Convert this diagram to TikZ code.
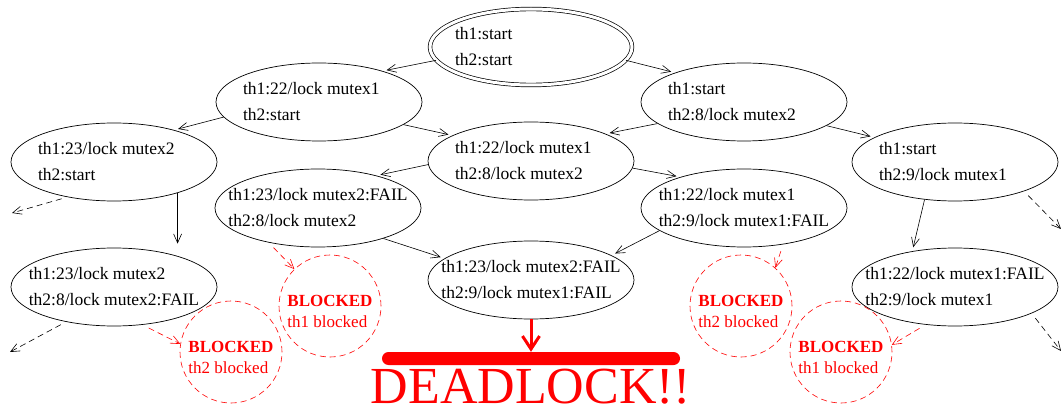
\documentclass[tikz,border=0pt]{standalone}
\usepackage{fontspec}
\setmainfont{Liberation Serif}
\usetikzlibrary{shapes.geometric, arrows.meta, positioning, calc}
\definecolor{blockred}{RGB}{255, 0, 0}

% two-line state label, kept out of the ellipse size
\newcommand\statetxt[3][l]{\makebox[0pt]{\begin{tabular}{@{}#1@{}}#2\\#3\end{tabular}}}
\newcommand\blocktxt[1]{\begin{tabular}{@{}l@{}}\rule{0pt}{28pt}\textbf{BLOCKED}\\#1\end{tabular}}

\begin{document}
\begin{tikzpicture}[
    x=1pt, y=-1pt,
    state/.style={ellipse, draw, line width=0.7pt, minimum width=206pt, minimum height=78pt,
        inner sep=0pt, font=\fontsize{17.5}{26.5}\selectfont},
    startstate/.style={state, double, double distance=3pt, minimum width=202pt, minimum height=76pt},
    blocked/.style={circle, draw=blockred, text=blockred, line width=0.6pt, dash pattern=on 6pt off 4pt,
        minimum size=102pt, inner sep=0pt, font=\fontsize{17}{20.7}\selectfont},
    deadbar/.style={rectangle, rounded corners=6.5pt, fill=blockred, minimum width=298pt,
        minimum height=13pt, inner sep=0pt},
    trans/.style={-{Straight Barb[length=9pt,width=8pt]}, line width=0.6pt, shorten >=4pt},
    more/.style={trans, dash pattern=on 6pt off 4pt, shorten <=6pt, shorten >=0pt},
    wait/.style={trans, blockred, dash pattern=on 6pt off 4pt, shorten <=7pt, shorten >=0pt},
    deadarrow/.style={-{Straight Barb[length=13pt,width=17pt]}, line width=3pt, blockred}
]
\useasboundingbox (0,0) rectangle (1061,409);

% states
\node[startstate] (start) at (531,47) {\statetxt[p{152pt}]{th1:start}{th2:start}};
\node[state] (l1) at (319,102) {\statetxt[p{152pt}]{th1:22/lock mutex1}{th2:start}};
\node[state] (r1) at (744,102) {\statetxt[p{152pt}]{th1:start}{th2:8/lock mutex2}};
\node[state] (l2) at (114,162) {\statetxt[p{152pt}]{th1:23/lock mutex2}{th2:start}};
\node[state] (c2) at (531,161) {\statetxt[p{152pt}]{th1:22/lock mutex1}{th2:8/lock mutex2}};
\node[state] (r2) at (955,162) {\statetxt[p{152pt}]{th1:start}{th2:9/lock mutex1}};
\node[state] (l3) at (318,208) {\statetxt{th1:23/lock mutex2:FAIL}{th2:8/lock mutex2}};
\node[state] (r3) at (744,208) {\statetxt{th1:22/lock mutex1}{th2:9/lock mutex1:FAIL}};
\node[state] (l4) at (114,287) {\statetxt{th1:23/lock mutex2}{th2:8/lock mutex2:FAIL}};
\node[state] (c4) at (531,280) {\statetxt{th1:23/lock mutex2:FAIL}{th2:9/lock mutex1:FAIL}};
\node[state] (r4) at (955,287) {\statetxt{th1:22/lock mutex1:FAIL}{th2:9/lock mutex1}};

% blocked threads
\node[blocked] (bl4) at (231,352) {\blocktxt{th2 blocked}};
\node[blocked] (bl3) at (330,306) {\blocktxt{th1 blocked}};
\node[blocked] (br3) at (741,306) {\blocktxt{th2 blocked}};
\node[blocked] (br4) at (841,352) {\blocktxt{th1 blocked}};

% deadlock
\node[deadbar] (bar) at (531,358.5) {};
\node[font=\fontsize{52}{52}\selectfont, text=blockred, anchor=base, inner sep=0pt] (dead) at (531,403) {DEADLOCK!!};

\coordinate (offl2) at (12,213);
\coordinate (offl4) at (10,352);
\coordinate (offr2) at (1061,229);
\coordinate (offr4) at (1061,351);

\draw[trans] (start.188) -- (l1.26);
\draw[trans] (start.352) -- (r1.157);
\draw[trans] (l1.189) -- (l2.28);
\draw[trans] (l1.345) -- (c2.162);
\draw[trans] (r1.194) -- (c2.20);
\draw[trans] (r1.344) -- (r2.163);
\draw[trans] (l2.334) -- (l2.334 |- l4.north);
\draw[trans] (c2.182) -- (l3.29);
\draw[trans] (c2.356) -- (r3.154);
\draw[trans] (r2.231) -- (r4.140);
\draw[trans] (l3.335) -- (c4.166);
\draw[trans] (r3.195) -- (c4.17);

\draw[more] (l2.217) -- (offl2);
\draw[more] (l4.216) -- (offl4);
\draw[more] (r2.337) -- (offr2);
\draw[more] (r4.341) -- (offr4);

\draw[wait] (l3.215) -- (bl3.134);
\draw[wait] (l4.307) -- (bl4.171);
\draw[wait] (r3.317) -- (br3.48);
\draw[wait] (r4.232) -- (br4.8);

\draw[deadarrow] (c4.south) -- (bar.north);
\end{tikzpicture}
\end{document}
